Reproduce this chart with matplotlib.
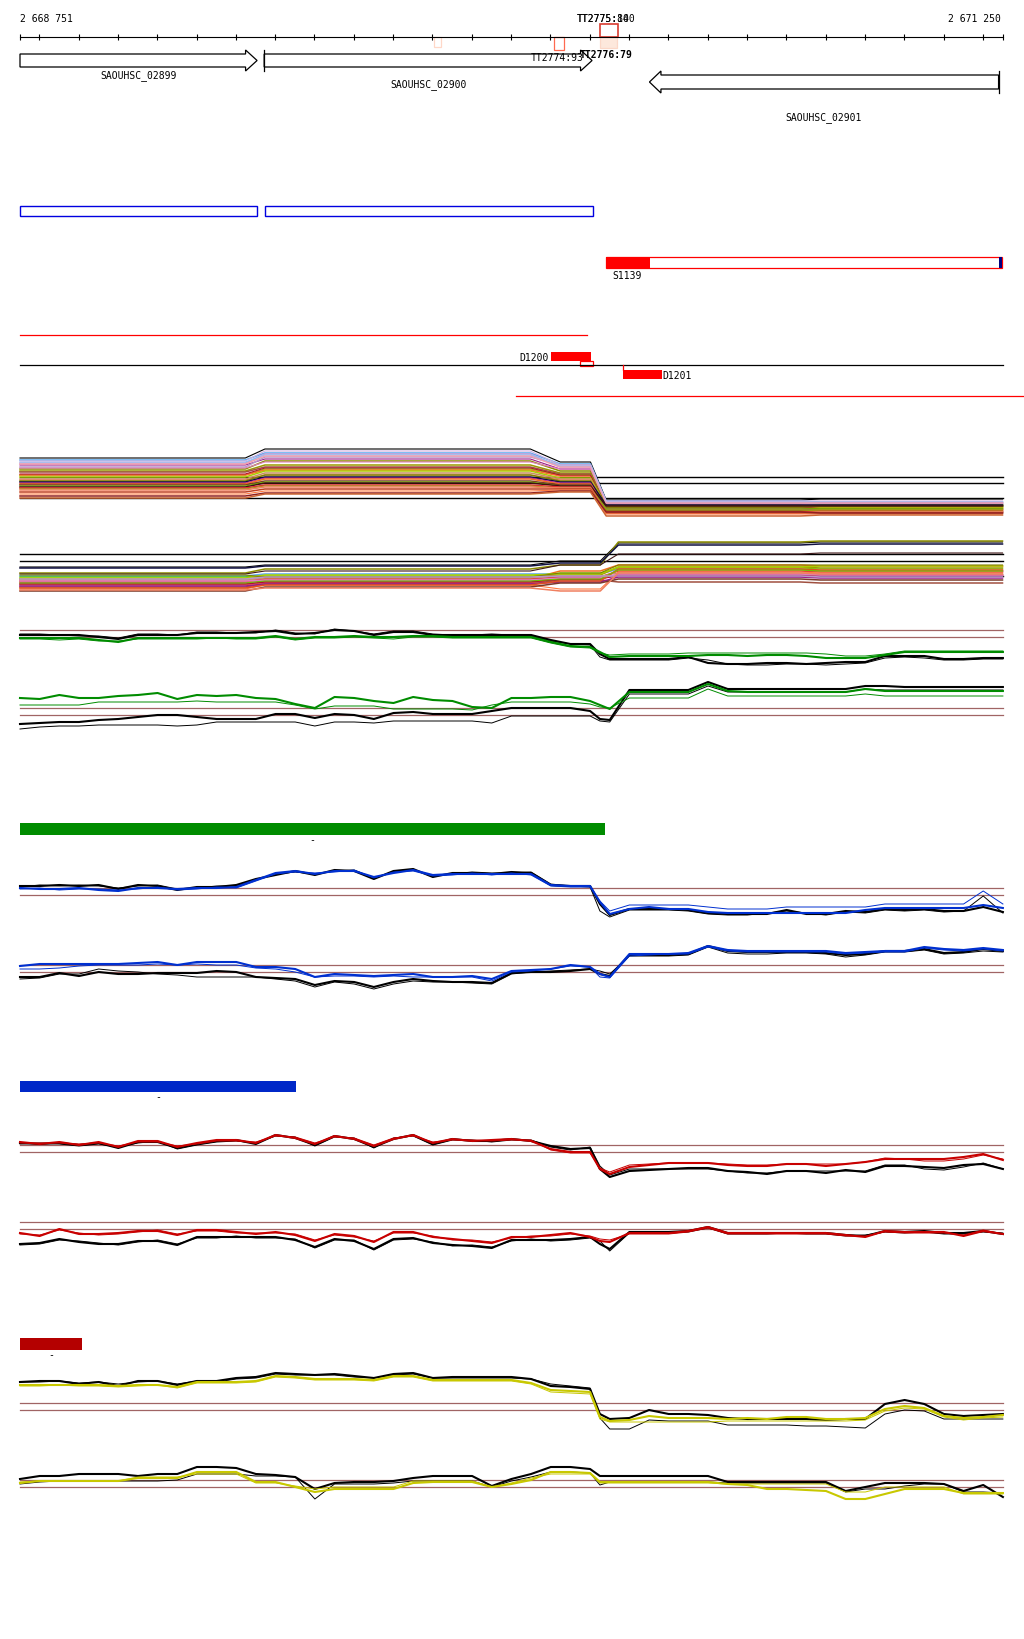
import numpy as np
import matplotlib
matplotlib.use("Agg")
import matplotlib.pyplot as plt
from matplotlib.patches import Polygon, Rectangle

plt.rcParams['font.family'] = ['DejaVu Sans Mono']

# ---------------- data ----------------
START, END = 2668751, 2671250
tick_pos = [START] + list(range(2668800, 2671201, 100)) + [END]

gene_names = ['SAOUHSC_02899', 'SAOUHSC_02900', 'SAOUHSC_02901']
gene_start = [2668751, 2669372, 2670352]
gene_end = [2669354, 2670206, 2671240]
gene_strand = [1, 1, -1]
gene_has_start = [False, True, True]

tt_names = ['TT2775:100', 'TT2775:84', 'TT2774:93', 'TT2776:79']
tt_start = [2670227, 2670227, 2670110, 2670227]
tt_end = [2670272, 2670270, 2670135, 2670270]

cds_start = [2668751, 2669374]
cds_end = [2669354, 2670208]

s_name = 'S1139'
s_start, s_end = 2670242, 2671250
s_fill_end = 2670354
s_tail_start = 2671240

red_seg1 = (2668751, 2670194)
red_seg2 = (2670013, 2671320)
d_names = ['D1200', 'D1201']
d_start = [2670102, 2670285]
d_end = [2670204, 2670385]
d_small = (2670176, 2670209)

bar_ends = [2670240, 2669453, 2668909]
bar_colors = ['#008c00', '#0028c8', '#b40000']

probe_pos = np.concatenate([np.arange(2668751, 2670202, 50), [2670226],
                            np.arange(2670251, 2671252, 50)])

# track B (green)
TB_up_black_a = [-2,-2,-2,-2,-4,-6,-2,-2,-2,0,0,0,1,2,-1,0,3,2,-2,1,1,-2,-2,-2,-2,-2,-2,-7,-11,-11,-21,-26,-26,-26,-26,-24,-30,-31,-31,-30,-30,-31,-30,-29,-29,-23,-23,-23,-26,-26,-25,-25]
TB_up_black_b = [-1,-1,-2,-3,-3,-5,-1,-1,-2,1,1,0,0,3,0,-1,4,2,-1,2,2,-1,-2,-2,-1,-2,-3,-8,-11,-12,-24,-27,-27,-27,-27,-25,-27,-31,-32,-32,-31,-31,-32,-31,-30,-25,-24,-25,-27,-27,-26,-26]
TB_up_col_a = [-5,-5,-5,-5,-7,-9,-5,-5,-5,-5,-5,-5,-5,-3,-6,-4,-4,-3,-4,-4,-3,-3,-4,-4,-4,-4,-4,-9,-13,-14,-19,-24,-23,-23,-23,-23,-22,-22,-23,-22,-22,-23,-25,-25,-25,-22,-19,-19,-19,-19,-19,-19]
TB_up_col_b = [-6,-6,-7,-6,-8,-8,-6,-6,-6,-6,-5,-6,-6,-4,-7,-5,-5,-4,-5,-6,-4,-4,-5,-5,-5,-5,-5,-10,-14,-15,-20,-22,-21,-21,-21,-20,-20,-20,-20,-20,-20,-20,-21,-23,-23,-21,-18,-18,-18,-18,-18,-18]
TB_lo_black_a = [-13,-12,-11,-11,-9,-8,-6,-4,-4,-6,-8,-8,-8,-3,-3,-7,-3,-4,-8,-2,-1,-3,-3,-3,0,3,3,3,3,0,-8,-9,21,21,21,21,29,22,22,22,22,22,22,22,25,25,24,24,24,24,24,24]
TB_lo_black_b = [-18,-16,-15,-15,-14,-14,-14,-14,-15,-14,-11,-11,-11,-11,-11,-15,-11,-11,-12,-10,-10,-10,-10,-10,-12,-5,-5,-5,-5,-5,-10,-11,17,17,17,17,25,19,19,19,19,19,19,19,22,21,21,21,21,21,21,21]
TB_lo_col_a = [13,12,16,13,13,15,16,18,12,16,15,16,13,12,7,3,14,13,10,8,14,11,10,4,3,13,13,14,14,10,6,2,19,19,19,19,27,20,19,19,19,19,19,19,22,20,20,20,20,20,20,20]
TB_lo_col_b = [6,6,6,6,9,9,9,9,9,10,9,9,9,9,6,2,5,5,5,2,2,2,2,1,6,9,9,9,9,7,4,3,13,13,13,13,22,15,15,15,15,15,15,15,17,15,15,15,15,15,15,15]

# track C (blue)
TC_up_black_a = [5,5,6,5,6,2,6,5,1,4,4,6,12,16,20,16,21,20,12,20,22,14,18,18,17,19,18,6,5,5,-13,-24,-18,-18,-18,-19,-22,-23,-23,-23,-19,-23,-23,-20,-21,-18,-19,-18,-20,-20,-16,-21]
TC_up_black_b = [4,6,5,6,5,3,5,6,2,3,5,5,11,17,19,17,20,21,13,19,21,15,17,19,18,18,19,7,5,4,-20,-26,-19,-19,-19,-20,-23,-24,-24,-22,-20,-22,-24,-21,-22,-19,-20,-19,-21,-20,-5,-22]
TC_up_col_a = [3,2,2,3,1,0,3,3,2,3,3,4,11,18,20,17,20,20,14,18,21,16,17,17,17,17,17,6,5,5,-11,-23,-18,-16,-18,-18,-21,-22,-22,-22,-22,-22,-22,-22,-19,-17,-17,-17,-17,-17,-14,-17]
TC_up_col_b = [2,3,1,2,2,1,2,4,1,2,4,3,10,17,19,18,19,21,13,19,20,15,16,18,16,18,16,5,4,4,-10,-20,-14,-14,-14,-14,-16,-18,-18,-18,-16,-16,-16,-16,-16,-13,-13,-13,-13,-13,0,-13]
TC_lo_black_a = [-9,-9,-5,-8,-4,-6,-6,-5,-5,-5,-3,-4,-9,-10,-11,-17,-13,-14,-19,-14,-11,-13,-14,-14,-15,-5,-4,-4,-3,-1,-6,-8,13,13,13,14,22,17,16,16,16,16,15,13,14,17,17,19,15,16,19,17]
TC_lo_black_b = [-11,-10,-6,-6,-1,-3,-4,-6,-7,-9,-9,-9,-9,-11,-13,-19,-14,-16,-21,-16,-13,-14,-14,-15,-16,-6,-4,-3,-2,-1,-3,-6,12,12,12,13,21,15,14,14,15,15,14,11,13,16,16,18,14,15,17,16]
TC_lo_col_a = [2,4,4,4,4,4,5,6,3,6,6,6,1,1,-1,-9,-6,-7,-8,-7,-6,-9,-9,-8,-11,-3,-2,-1,3,1,-6,-9,14,14,14,15,22,18,17,17,17,17,17,15,16,17,17,21,19,18,20,18]
TC_lo_col_b = [-1,-1,0,2,3,3,3,4,3,4,3,3,0,-1,-4,-9,-8,-8,-9,-8,-9,-9,-9,-9,-13,-4,-3,-1,2,1,-9,-10,12,13,14,14,21,17,16,16,16,16,16,14,15,16,16,20,18,17,19,17]

# track D (red)
TD_up_black_a = [5,4,5,3,5,0,6,6,0,4,7,8,4,13,10,3,12,9,1,9,13,4,9,7,7,9,7,2,-1,0,-21,-29,-23,-22,-21,-20,-20,-23,-24,-26,-23,-23,-25,-22,-24,-18,-18,-19,-20,-17,-16,-21]
TD_up_black_b = [4,5,4,2,4,1,5,7,-1,3,6,7,5,12,11,2,11,10,0,10,12,3,8,8,6,8,8,1,-2,1,-18,-27,-21,-21,-21,-21,-21,-23,-25,-25,-23,-23,-23,-23,-23,-17,-17,-21,-22,-19,-15,-21]
TD_up_col_a = [6,4,6,3,6,1,7,7,1,5,8,8,5,13,10,4,12,9,2,9,13,5,9,7,8,9,7,-1,-4,-4,-21,-26,-19,-17,-15,-15,-15,-17,-18,-18,-16,-16,-18,-16,-14,-11,-11,-11,-11,-9,-6,-12]
TD_up_col_b = [5,5,5,4,5,2,6,6,2,4,7,7,6,12,11,5,11,10,3,10,12,6,8,8,7,8,8,-2,-5,-5,-20,-24,-17,-16,-15,-15,-15,-16,-17,-17,-16,-16,-16,-16,-14,-10,-11,-13,-13,-11,-7,-11]
TD_lo_black_a = [-19,-18,-14,-17,-19,-19,-16,-16,-20,-12,-12,-12,-12,-12,-15,-22,-14,-16,-24,-14,-13,-18,-20,-21,-23,-15,-15,-15,-14,-12,-19,-24,-7,-7,-7,-6,-2,-8,-8,-8,-8,-8,-8,-10,-11,-6,-7,-6,-8,-8,-6,-9]
TD_lo_black_b = [-20,-19,-15,-16,-18,-20,-17,-15,-19,-13,-13,-11,-13,-13,-14,-23,-15,-15,-25,-15,-14,-17,-21,-20,-22,-16,-14,-16,-15,-13,-16,-26,-8,-8,-8,-7,-3,-9,-9,-9,-8,-9,-9,-11,-10,-7,-8,-7,-9,-9,-7,-8]
TD_lo_col_a = [-8,-11,-4,-9,-9,-8,-6,-6,-10,-5,-5,-7,-9,-7,-10,-16,-9,-11,-17,-7,-7,-12,-14,-16,-18,-12,-12,-10,-8,-12,-16,-17,-8,-8,-8,-6,-2,-8,-8,-8,-8,-8,-8,-10,-12,-6,-7,-7,-7,-11,-6,-9]
TD_lo_col_b = [-9,-10,-5,-8,-10,-9,-7,-5,-9,-6,-6,-8,-8,-8,-9,-15,-10,-12,-16,-8,-8,-11,-15,-15,-17,-13,-11,-11,-9,-11,-14,-15,-9,-9,-9,-7,-3,-9,-9,-9,-9,-9,-9,-11,-11,-7,-8,-8,-8,-10,-5,-9]

# track E (yellow)
TE_up_black_a = [24,25,25,22,24,20,25,25,21,25,25,28,29,33,32,31,32,30,28,32,33,28,29,29,29,29,27,20,19,17,-8,-13,-12,-4,-8,-8,-9,-12,-13,-13,-13,-13,-14,-13,-13,2,6,2,-8,-10,-9,-8]
TE_up_black_b = [24,24,25,23,24,22,24,25,22,25,24,27,28,32,31,31,31,29,28,31,32,28,28,28,28,28,27,22,20,18,-12,-23,-23,-14,-15,-15,-15,-19,-19,-19,-19,-20,-20,-21,-22,-8,-4,-5,-13,-13,-13,-13]
TE_up_col_a = [21,21,21,21,21,20,21,21,19,24,24,24,25,30,29,27,27,27,26,30,30,26,26,26,26,26,23,16,15,14,-11,-15,-14,-10,-12,-12,-12,-13,-12,-13,-11,-11,-13,-13,-12,-3,0,-2,-10,-12,-11,-9]
TE_up_col_b = [20,20,21,20,20,19,20,21,18,23,23,23,24,29,28,26,26,26,25,29,29,25,25,25,25,25,22,14,13,12,-13,-16,-16,-16,-16,-16,-16,-15,-15,-15,-15,-15,-15,-15,-14,-5,-2,-3,-11,-14,-12,-11]
TE_lo_black_a = [4,7,7,9,9,9,7,9,9,16,16,15,9,8,6,-6,0,1,1,2,5,7,7,7,-3,4,9,16,16,14,7,7,7,7,7,7,7,1,1,1,1,1,1,-8,-4,0,0,0,-1,-8,-2,-14]
TE_lo_black_b = [-1,1,2,2,2,2,2,2,3,9,9,9,7,7,6,-16,-1,-1,-1,0,2,2,2,2,-4,2,6,11,11,10,-2,1,1,1,1,1,1,0,0,0,0,0,0,-9,-6,-6,-3,-1,-1,-9,-9,-10]
TE_lo_col_a = [0,2,2,2,2,2,5,5,5,11,11,11,1,1,-4,-9,-6,-6,-6,-6,0,1,1,1,-4,-1,3,11,11,10,1,1,1,1,1,1,1,-1,-2,-6,-6,-7,-8,-16,-16,-11,-6,-6,-6,-10,-10,-10]
TE_lo_col_b = [1,2,2,2,2,2,6,6,6,9,9,9,0,0,-3,-6,-4,-4,-4,-4,2,2,2,2,-4,0,5,9,9,9,0,0,0,0,0,0,0,-1,-1,-1,-1,-1,-1,-9,-9,-4,-4,-4,-4,-11,-11,-11]

# track A (multi-sample) levels per segment: left, middle, pre-drop, right1, right2
tA_up_pos = [2668751, 2669324, 2669374, 2670049, 2670125, 2670202, 2670242, 2670736, 2670787, 2671250]
tA_up_colors = ['#000000','#5aaaf0','#c8a0d8','#9b1a8a','#b898c8','#8c8c00','#e080c0','#999900','#a05040','#88c4f8',
                '#66ee00','#ff6a30','#b01030','#aacc00','#c89060','#e87858','#808000','#101040','#c020a0','#f07020',
                '#7a3a2a','#70c000','#401010','#e03030','#9a9a10','#f08060','#c04020','#ff7a40','#902020','#f0a0b0',
                '#d0b0e0','#cc6633']
tA_up_L = [25,23,20,18,16,14,15,12,11,21,8,8,9,6,4,3,2,1,0,-1,-2,-3,-4,-5,-6,-7,-9,-11,-13,19,22,-15]
tA_up_M = [34,30,29,24,26,22,21,18,16,28,14,13,15,12,10,8,8,6,5,4,2,1,0,-2,-3,-4,-6,-8,-10,27,32,-11]
tA_up_P = [21,19,16,14,18,12,14,10,9,17,8,7,8,5,4,3,2,1,0,-1,-2,-3,-3,-4,-5,-5,-6,-7,-8,16,18,-9]
tA_up_R1 = [-17,-18,-19,-21,-20,-22,-21,-23,-24,-19,-25,-26,-24,-23,-27,-27,-25,-22,-26,-28,-28,-26,-23,-29,-27,-30,-30,-31,-29,-20,-18,-33]
tA_up_R2 = [-16,-19,-20,-20,-21,-23,-22,-22,-23,-19,-24,-25,-25,-24,-26,-28,-26,-22,-27,-27,-29,-26,-23,-28,-28,-29,-30,-31,-30,-20,-18,-32]
tA_up_ref = [6, 0, -15]

tA_lo_pos = [2668751, 2669324, 2669374, 2670049, 2670125, 2670227, 2670273, 2670736, 2670787, 2671250]
tA_lo_colors = ['#000000','#8c8c00','#101040','#401818','#5aaaf0','#f07020','#66ee00','#999900','#e03030','#b01890',
                '#e87858','#a05040','#c89060','#b01030','#aacc00','#ff7a40','#e080c0','#9b1a8a','#808000','#7a3a2a',
                '#e05020','#70c000','#b898c8','#f08060']
tA_lo_L = [-6,-12,-7,-13,-15,-21,-16,-18,-20,-22,-24,-26,-19,-23,-17,-28,-20,-25,-14,-30,-27,-22,-18,-29]
tA_lo_M = [-4,-8,-5,-10,-13,-18,-15,-16,-18,-20,-22,-23,-17,-21,-14,-24,-19,-23,-16,-26,-24,-20,-16,-27]
tA_lo_P = [0,-4,-2,-4,-13,-10,-12,-14,-16,-17,-18,-19,-15,-18,-13,-28,-17,-21,-12,-22,-20,-18,-15,-30]
tA_lo_R1 = [18,19,16,7,-8,-4,-7,-6,-10,-15,-9,-21,-12,-14,-6,-11,-13,-16,-4,-18,-8,-9,-15,-12]
tA_lo_R2 = [19,20,17,8,-10,-5,-8,-7,-11,-15,-10,-22,-13,-14,-5,-12,-14,-17,-4,-19,-9,-10,-16,-13]
tA_lo_ref = [7, 0, -15]

# ---------------- figure ----------------
W, H = 1024, 1640
fig = plt.figure(figsize=(W / 100, H / 100), dpi=100)
PX0, PX1 = 20, 1002.5
bpp = (END - START) / (PX1 - PX0)
XLIM = (START - PX0 * bpp, START + (W - PX0) * bpp)

ax = fig.add_axes([0, 0, 1, 1])
ax.set_xlim(*XLIM)
ax.set_ylim(H, 0)
ax.axis('off')

FS = 7
# ruler
ax.plot([START, END], [38, 38], color='black', lw=0.8)
ax.vlines(tick_pos, 35, 41, color='black', lw=0.8)
ax.text(START, 19, '2 668 751', ha='left', va='center', fontsize=FS)
ax.text(END - 2 * bpp, 19, '2 671 250', ha='right', va='center', fontsize=FS)

# genes
head = 11.5 * bpp
gene_rows = [(55, 68, 51, 72), (55, 68, 51, 72), (76, 90, 72, 94)]
label_y = [76, 85, 118]
for name, s, e, st, hs, row, ly in zip(gene_names, gene_start, gene_end, gene_strand,
                                        gene_has_start, gene_rows, label_y):
    y0, y1, h0, h1 = row
    ym = (y0 + y1) / 2
    if st > 0:
        pts = [(s, y0), (e - head, y0), (e - head, h0), (e, ym), (e - head, h1), (e - head, y1), (s, y1)]
        bar_x = s
    else:
        pts = [(e, y0), (s + head, y0), (s + head, h0), (s, ym), (s + head, h1), (s + head, y1), (e, y1)]
        bar_x = e
    ax.add_patch(Polygon(pts, closed=True, facecolor='white', edgecolor='black', lw=0.9))
    if hs:
        ax.plot([bar_x, bar_x], [h0, h1], color='black', lw=0.9)
    ax.text((s + e) / 2, ly, name, ha='center', va='center', fontsize=FS)

# transcription terminator marks
ax.add_patch(Rectangle((2669805, 38), 17, 10, facecolor='none', edgecolor='#ffd8c8', lw=0.9))
ax.add_patch(Rectangle((tt_start[2], 38), tt_end[2] - tt_start[2], 13, facecolor='none',
                       edgecolor='#ff6a50', lw=0.9))
ax.add_patch(Rectangle((tt_start[1], 38), tt_end[1] - tt_start[1], 11, facecolor='#fde8dc',
                       edgecolor='#fbd8c8', lw=0.9))
ax.add_patch(Rectangle((tt_start[0], 25), tt_end[0] - tt_start[0], 13, facecolor='none',
                       edgecolor='#d83c30', lw=1.2))
ax.text(2670168, 19, tt_names[0], ha='left', va='center', fontsize=FS)
ax.text(2670168, 19.5, tt_names[1], ha='left', va='center', fontsize=FS)
ax.text(2670051, 58, tt_names[2], ha='left', va='center', fontsize=FS)
ax.text(2670174, 55, tt_names[3], ha='left', va='center', fontsize=FS, fontweight='bold')

# CDS boxes
for s, e in zip(cds_start, cds_end):
    ax.add_patch(Rectangle((s, 207), e - s, 10, facecolor='none', edgecolor='#0000e0', lw=1.0))

# S1139
ax.add_patch(Rectangle((s_start, 258), s_end - s_start, 11, facecolor='white', edgecolor='#ff0000', lw=0.9))
ax.add_patch(Rectangle((s_start, 258), s_fill_end - s_start, 11, facecolor='#ff0000', edgecolor='none'))
ax.add_patch(Rectangle((s_tail_start, 258), s_end - s_tail_start, 11, facecolor='#000080', edgecolor='none'))
ax.text(s_start + 6 * bpp, 276, s_name, ha='left', va='center', fontsize=FS)

# segments / D features
ax.plot(red_seg1, [336, 336], color='#ff0000', lw=0.9)
ax.plot([START, END], [366, 366], color='black', lw=0.9)
ax.plot(red_seg2, [397, 397], color='#ff0000', lw=0.9, clip_on=False)
ax.add_patch(Rectangle((d_start[0], 353), d_end[0] - d_start[0], 9, facecolor='#ff0000', edgecolor='none'))
ax.add_patch(Rectangle((d_small[0], 362), d_small[1] - d_small[0], 5, facecolor='none', edgecolor='#ff0000', lw=0.9))
ax.text(d_start[0] - 2 * bpp, 358, d_names[0], ha='right', va='center', fontsize=FS)
ax.add_patch(Rectangle((d_start[1], 371), d_end[1] - d_start[1], 9, facecolor='#ff0000', edgecolor='none'))
ax.plot([d_start[1], d_start[1]], [366, 371], color='#ff0000', lw=0.9)
ax.text(d_end[1], 376, d_names[1], ha='left', va='center', fontsize=FS)

# legend bars
for e, c, (y0, y1) in zip(bar_ends, bar_colors, [(824, 836), (1082, 1093), (1339, 1351)]):
    ax.add_patch(Rectangle((START, y0), e - START, y1 - y0, facecolor=c, edgecolor='none'))
    ax.text((START + e) / 2, y1 + 4, '-', ha='center', va='center', fontsize=FS)


def track_axes(mid_px, half=50):
    a = fig.add_axes([0, 1 - (mid_px + half) / H, 1, 2 * half / H])
    a.set_xlim(*XLIM)
    a.set_ylim(-half, half)
    a.axis('off')
    a.patch.set_alpha(0)
    return a


# track A (multi coloured)
for mid, pos, cols, L, M, P, R1, R2, refs in [
        (484, tA_up_pos, tA_up_colors, tA_up_L, tA_up_M, tA_up_P, tA_up_R1, tA_up_R2, tA_up_ref),
        (562, tA_lo_pos, tA_lo_colors, tA_lo_L, tA_lo_M, tA_lo_P, tA_lo_R1, tA_lo_R2, tA_lo_ref)]:
    a = track_axes(mid)
    for r in refs:
        a.plot([START, END], [r, r], color='black', lw=1.0)
    for i, c in enumerate(cols):
        vals = [L[i], L[i], M[i], M[i], P[i], P[i], R1[i], R1[i], R2[i], R2[i]]
        a.plot(pos, vals, color=c, lw=1.1 if i % 3 else 0.8, clip_on=False)

# tracks B-E
ref_color = '#a06464'
groups = [
    (634, TB_up_black_a, TB_up_black_b, TB_up_col_a, TB_up_col_b, '#008c00'),
    (712, TB_lo_black_a, TB_lo_black_b, TB_lo_col_a, TB_lo_col_b, '#008c00'),
    (892, TC_up_black_a, TC_up_black_b, TC_up_col_a, TC_up_col_b, '#0030d0'),
    (969, TC_lo_black_a, TC_lo_black_b, TC_lo_col_a, TC_lo_col_b, '#0030d0'),
    (1149, TD_up_black_a, TD_up_black_b, TD_up_col_a, TD_up_col_b, '#c80000'),
    (1226, TD_lo_black_a, TD_lo_black_b, TD_lo_col_a, TD_lo_col_b, '#c80000'),
    (1407, TE_up_black_a, TE_up_black_b, TE_up_col_a, TE_up_col_b, '#c8c800'),
    (1484, TE_lo_black_a, TE_lo_black_b, TE_lo_col_a, TE_lo_col_b, '#c8c800'),
]
for mid, ba, bb, ca, cb, col in groups:
    a = track_axes(mid)
    a.plot([START, END], [3.5, 3.5], color=ref_color, lw=0.9)
    a.plot([START, END], [-3.5, -3.5], color=ref_color, lw=0.9)
    a.plot(probe_pos, ba, color='black', lw=1.5, clip_on=False)
    a.plot(probe_pos, bb, color='black', lw=0.7, clip_on=False)
    a.plot(probe_pos, ca, color=col, lw=1.5, clip_on=False)
    a.plot(probe_pos, cb, color=col, lw=0.7, clip_on=False)

fig.savefig('out.png', dpi=100, facecolor='white')
